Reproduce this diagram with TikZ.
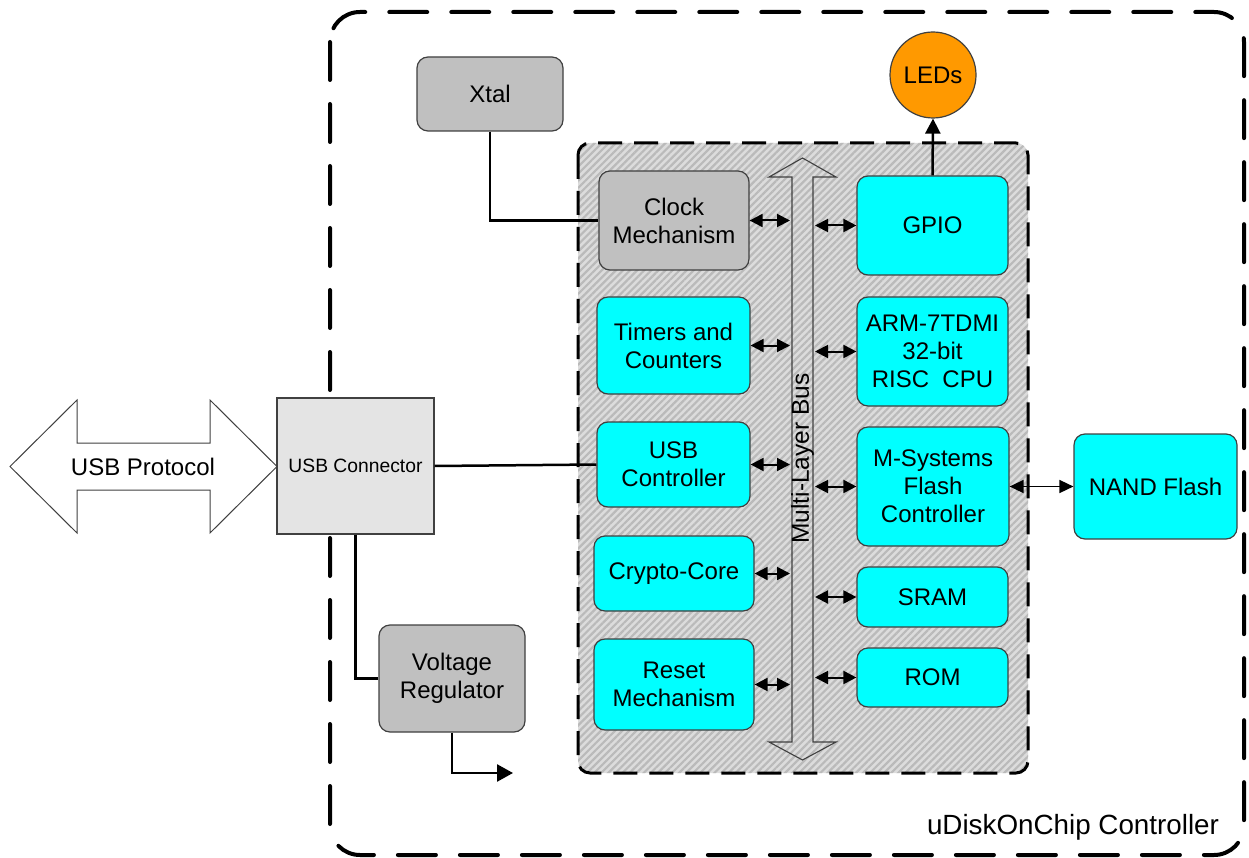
\documentclass[tikz,border=0pt]{standalone}
\usepackage{fontspec}
\setmainfont{Liberation Sans}
\usetikzlibrary{arrows.meta,patterns.meta,shapes.geometric}
\definecolor{cyanbox}{HTML}{00FFFF}
\definecolor{graybox}{HTML}{C0C0C0}
\definecolor{connbox}{HTML}{E4E4E4}
\definecolor{edge}{HTML}{404040}
\definecolor{ledorange}{HTML}{FF9900}
\definecolor{hatchbase}{HTML}{DCDCDC}
\definecolor{hatchline}{HTML}{BABABA}
\tikzset{
  blk/.style={draw=edge, line width=1.2pt, rounded corners=11pt, align=center,
    font=\fontsize{24}{28}\selectfont, inner sep=0pt},
  cyanblk/.style={blk, fill=cyanbox},
  grayblk/.style={blk, fill=graybox},
  wire/.style={line width=2.5pt, draw=black},
  busarr/.style={line width=2pt, {Triangle[length=13pt,width=13pt]}-{Triangle[length=13pt,width=13pt]}},
  flasharr/.style={line width=1.6pt, {Triangle[length=14pt,width=13pt]}-{Triangle[length=14pt,width=13pt]}},
  outarr/.style={line width=2.5pt, -{Triangle[length=16pt,width=17pt]}},
  ledarr/.style={line width=2.5pt, -{Triangle[length=15pt,width=15pt]}},
}
\begin{document}
\begin{tikzpicture}[x=1pt,y=-1pt]
\useasboundingbox (0,0) rectangle (1249,858);
% outer dashed frame
\draw[line width=4pt, dash pattern=on 38pt off 24pt, rounded corners=30pt, line cap=round]
  (330,12) rectangle (1244,855);
% inner hatched area
\draw[line width=3pt, dash pattern=on 24pt off 12pt, rounded corners=12pt,
  preaction={fill=hatchbase},
  pattern={Lines[angle=45,distance=5pt,line width=2.2pt]}, pattern color=hatchline]
  (578,143) rectangle (1028,773);
% multi-layer bus
\draw[draw=edge, line width=1.1pt]
  (792,177) -- (769,177) -- (802.5,158) -- (836,177) -- (813,177) -- (813,742)
  -- (836,742) -- (802.5,760) -- (769,742) -- (792,742) -- cycle;
\node[rotate=90, font=\fontsize{24.5}{28}\selectfont, inner sep=0pt] (busl) at (802.5,458.5) {Multi-Layer Bus};
% USB protocol arrow
\draw[draw=edge, line width=1pt, fill=white]
  (10,466.5) -- (77,400) -- (77,443) -- (210,443) -- (210,400) -- (277,466.5)
  -- (210,533) -- (210,490) -- (77,490) -- (77,533) -- cycle;
\node[font=\fontsize{24}{28}\selectfont, inner sep=0pt] (usbp) at (143,466.5) {USB Protocol};
% blocks
\node[grayblk, minimum width=146pt, minimum height=74pt] (xtal) at (490,94) {Xtal};
\node[circle, draw=edge, line width=1.2pt, fill=ledorange, minimum size=86pt, inner sep=0pt,
  font=\fontsize{24}{28}\selectfont] (leds) at (933,75) {LEDs};
\node[grayblk, minimum width=150pt, minimum height=99pt] (clk) at (674,220.5) {Clock\\Mechanism};
\node[cyanblk, minimum width=151pt, minimum height=99pt] (gpio) at (932.5,225.5) {GPIO};
\node[cyanblk, minimum width=153pt, minimum height=97pt] (tmr) at (673.5,345.5) {Timers and\\Counters};
\node[cyanblk, minimum width=151pt, minimum height=109pt] (arm) at (932.5,351.5) {ARM-7TDMI\\32-bit\\RISC\ \ CPU};
\node[cyanblk, minimum width=153pt, minimum height=85pt] (usbc) at (673.5,464.5) {USB\\Controller};
\node[cyanblk, minimum width=152pt, minimum height=119pt] (msys) at (933,486.5) {M-Systems\\Flash\\Controller};
\node[cyanblk, minimum width=160pt, minimum height=75pt] (crypto) at (674,573.5) {Crypto-Core};
\node[cyanblk, minimum width=151pt, minimum height=60pt] (sram) at (932.5,597) {SRAM};
\node[cyanblk, minimum width=160pt, minimum height=91pt] (reset) at (674,684.5) {Reset\\Mechanism};
\node[cyanblk, minimum width=151pt, minimum height=59pt] (rom) at (932.5,677.5) {ROM};
\node[cyanblk, minimum width=163pt, minimum height=105pt] (nand) at (1155.5,486.5) {NAND Flash};
\node[draw=edge, line width=1.2pt, fill=connbox, minimum width=157pt, minimum height=136pt,
  inner sep=0pt, font=\fontsize{19.3}{23}\selectfont] (usbconn) at (355.5,466) {USB Connector};
\node[grayblk, minimum width=146pt, minimum height=107pt] (vreg) at (452,678.5) {Voltage\\Regulator};
\node[font=\fontsize{27.8}{32}\selectfont, inner sep=0pt, anchor=base] (title) at (1073,834) {uDiskOnChip Controller};
% bus connection points
\coordinate (bl1) at (790,220.5);
\coordinate (bl2) at (790,345.5);
\coordinate (bl3) at (790,464.5);
\coordinate (bl4) at (790,573.5);
\coordinate (bl5) at (790,684.5);
\coordinate (br1) at (815,225.5);
\coordinate (br2) at (815,351.5);
\coordinate (br3) at (815,486.5);
\coordinate (br4) at (815,597);
\coordinate (br5) at (815,677.5);
\draw[busarr] (clk.east) -- (bl1);
\draw[busarr] (tmr.east) -- (bl2);
\draw[busarr] (usbc.east) -- (bl3);
\draw[busarr] (crypto.east) -- (bl4);
\draw[busarr] (reset.east) -- (bl5);
\draw[busarr] (br1) -- (gpio.west);
\draw[busarr] (br2) -- (arm.west);
\draw[busarr] (br3) -- (msys.west);
\draw[busarr] (br4) -- (sram.west);
\draw[busarr] (br5) -- (rom.west);
% other connections
\draw[wire] (xtal.south) |- (clk.west);
\draw[wire] (usbconn.east) -- (usbc.west);
\draw[wire] (usbconn.south) |- (vreg.west);
\coordinate (vout) at (513,773);
\draw[outarr] (vreg.south) |- (vout);
\draw[ledarr] (gpio.north) -- (leds.south);
\draw[flasharr] (msys.east) -- (nand.west);
\end{tikzpicture}
\end{document}
